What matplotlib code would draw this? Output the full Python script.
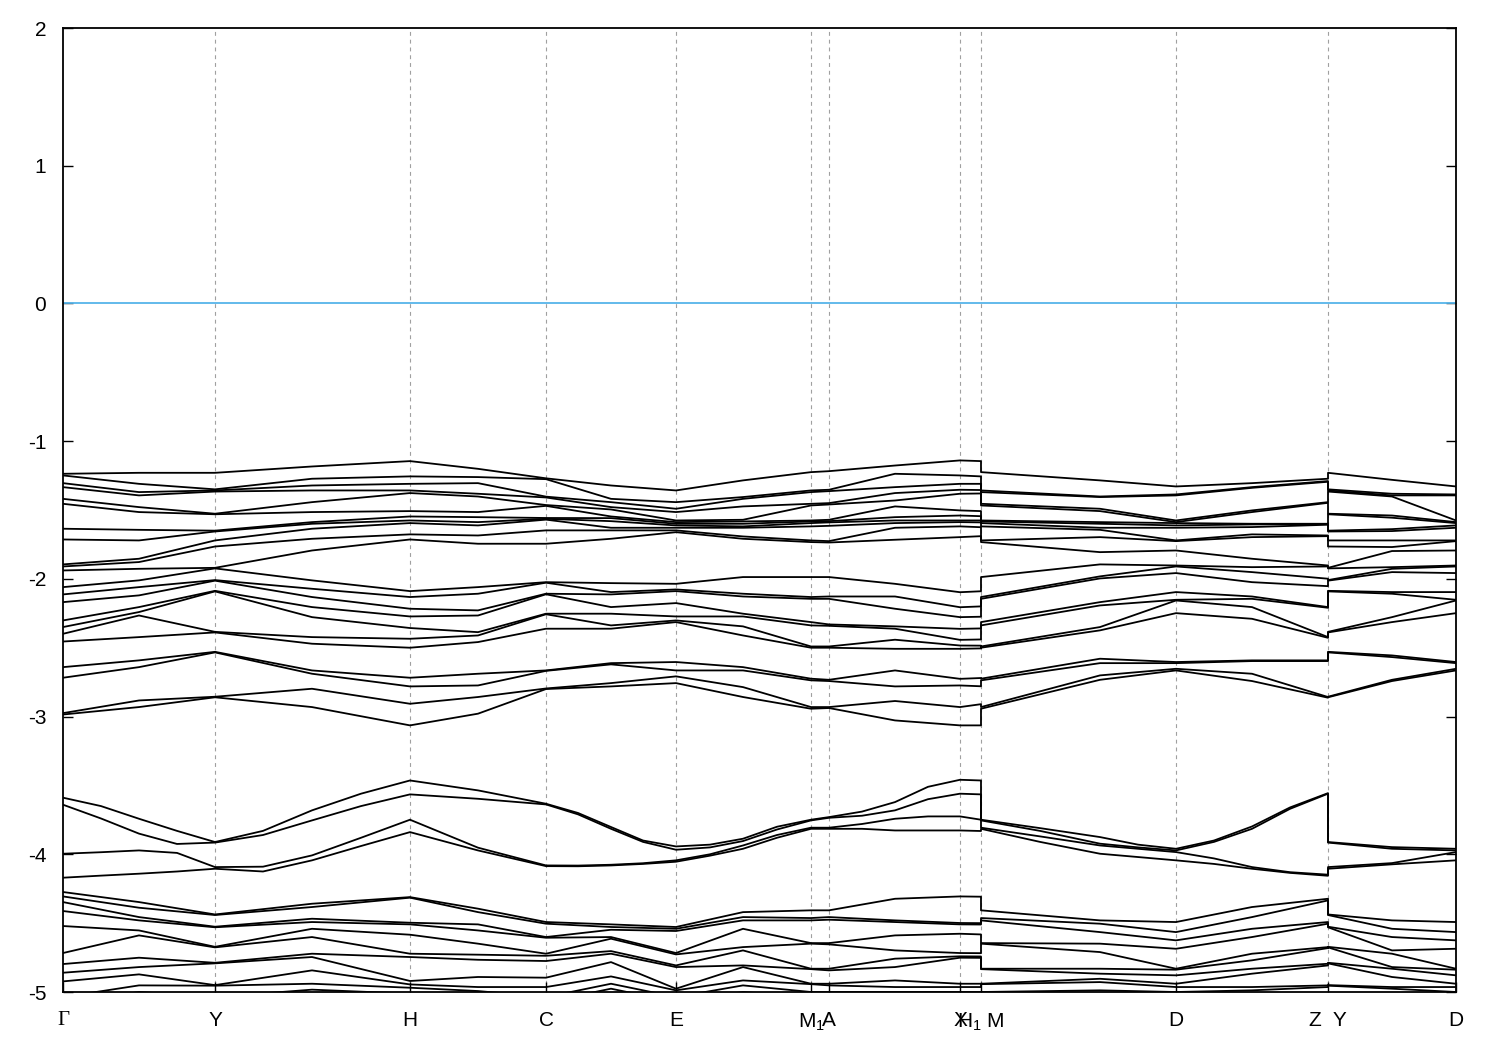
import numpy as np
import matplotlib
matplotlib.use("Agg")
import matplotlib.pyplot as plt

plt.rcParams['font.family'] = ['Liberation Sans', 'DejaVu Sans']
plt.rcParams['mathtext.fontset'] = 'custom'
plt.rcParams['mathtext.rm'] = 'Liberation Sans'
plt.rcParams['mathtext.it'] = 'Liberation Sans'
plt.rcParams['axes.unicode_minus'] = False

# high-symmetry points along the path
tick_pos = [0.00, 1.52, 3.47, 4.83, 6.13, 7.48, 7.66, 8.97, 9.18, 11.13, 12.65, 13.93]
tick_labels = ['Γ', 'Y', 'H', 'C', 'E', 'M$_1$', 'A', 'X', 'H$_1$ M', 'D', 'Z  Y', 'D']

# k positions of the sampled columns (Γ..H1 | M..Z | Y..D)
seg1_k = [0.00, 0.76, 1.52, 2.49, 3.47, 4.15, 4.83, 5.48, 6.13, 6.80, 7.48, 7.66, 8.32, 8.97, 9.18]
seg2_k = [9.18, 10.37, 11.13, 11.89, 12.65]
seg3_k = [12.65, 13.29, 13.93]

# upper manifold (22 bands), one row per column
seg1_upper = [
    [-1.237, -1.249, -1.305, -1.334, -1.419, -1.455, -1.636, -1.714, -1.895, -1.910, -1.939, -2.060, -2.113, -2.169, -2.302, -2.350, -2.399, -2.455, -2.641, -2.718, -2.975, -2.985],  # Γ
    [-1.230, -1.310, -1.370, -1.394, -1.479, -1.515, -1.644, -1.721, -1.854, -1.878, -1.927, -2.011, -2.060, -2.120, -2.205, -2.241, -2.266, -2.423, -2.592, -2.641, -2.883, -2.931],
    [-1.230, -1.350, -1.358, -1.366, -1.527, -1.531, -1.650, -1.656, -1.721, -1.765, -1.920, -1.924, -2.009, -2.013, -2.087, -2.091, -2.385, -2.389, -2.530, -2.534, -2.856, -2.860],  # Y
    [-1.184, -1.273, -1.322, -1.358, -1.443, -1.515, -1.588, -1.600, -1.636, -1.709, -1.794, -2.011, -2.072, -2.132, -2.205, -2.278, -2.423, -2.471, -2.665, -2.689, -2.798, -2.931],
    [-1.145, -1.256, -1.310, -1.358, -1.377, -1.508, -1.547, -1.576, -1.595, -1.677, -1.714, -2.089, -2.132, -2.217, -2.273, -2.357, -2.435, -2.500, -2.718, -2.781, -2.907, -3.064],  # H
    [-1.201, -1.261, -1.305, -1.382, -1.402, -1.515, -1.552, -1.588, -1.612, -1.685, -1.745, -2.060, -2.108, -2.229, -2.266, -2.387, -2.411, -2.459, -2.689, -2.774, -2.858, -2.979],
    [-1.270, -1.276, -1.403, -1.409, -1.464, -1.470, -1.558, -1.564, -1.570, -1.648, -1.745, -2.024, -2.028, -2.108, -2.112, -2.253, -2.257, -2.362, -2.665, -2.668, -2.796, -2.800],  # C
    [-1.322, -1.419, -1.443, -1.479, -1.496, -1.547, -1.559, -1.581, -1.629, -1.648, -1.709, -2.031, -2.096, -2.113, -2.205, -2.253, -2.338, -2.362, -2.612, -2.621, -2.757, -2.781],
    [-1.358, -1.443, -1.491, -1.515, -1.576, -1.588, -1.600, -1.612, -1.629, -1.648, -1.661, -2.036, -2.077, -2.089, -2.176, -2.273, -2.302, -2.314, -2.604, -2.665, -2.708, -2.757],  # E
    [-1.285, -1.406, -1.419, -1.474, -1.571, -1.583, -1.600, -1.619, -1.629, -1.692, -1.709, -1.987, -2.108, -2.128, -2.253, -2.273, -2.345, -2.411, -2.641, -2.665, -2.786, -2.858],
    [-1.225, -1.358, -1.370, -1.455, -1.467, -1.576, -1.583, -1.595, -1.619, -1.721, -1.733, -1.987, -2.132, -2.145, -2.314, -2.338, -2.491, -2.500, -2.725, -2.737, -2.931, -2.943],  # M1
    [-1.218, -1.353, -1.363, -1.450, -1.460, -1.571, -1.581, -1.590, -1.615, -1.726, -1.736, -1.987, -2.128, -2.145, -2.331, -2.341, -2.491, -2.500, -2.733, -2.742, -2.931, -2.938],  # A
    [-1.177, -1.237, -1.334, -1.377, -1.431, -1.474, -1.552, -1.576, -1.595, -1.629, -1.716, -2.036, -2.128, -2.217, -2.345, -2.362, -2.442, -2.508, -2.665, -2.781, -2.887, -3.028],
    [-1.140, -1.249, -1.310, -1.353, -1.382, -1.503, -1.540, -1.576, -1.588, -1.619, -1.697, -2.097, -2.206, -2.278, -2.363, -2.443, -2.484, -2.508, -2.726, -2.774, -2.931, -3.064],  # X
    [-1.145, -1.256, -1.310, -1.355, -1.380, -1.508, -1.545, -1.576, -1.590, -1.625, -1.690, -2.090, -2.200, -2.275, -2.360, -2.440, -2.485, -2.505, -2.720, -2.780, -2.910, -3.064],  # H1
]
seg2_upper = [
    [-1.225, -1.358, -1.370, -1.455, -1.467, -1.576, -1.583, -1.595, -1.619, -1.721, -1.733, -1.987, -2.132, -2.145, -2.314, -2.338, -2.491, -2.500, -2.725, -2.737, -2.931, -2.943],  # M
    [-1.285, -1.402, -1.406, -1.491, -1.508, -1.588, -1.600, -1.629, -1.644, -1.697, -1.806, -1.895, -1.982, -1.997, -2.169, -2.193, -2.350, -2.374, -2.580, -2.612, -2.701, -2.733],
    [-1.329, -1.387, -1.394, -1.576, -1.588, -1.595, -1.612, -1.629, -1.721, -1.726, -1.794, -1.903, -1.910, -1.958, -2.096, -2.152, -2.157, -2.249, -2.604, -2.612, -2.653, -2.665],  # D
    [-1.305, -1.334, -1.339, -1.503, -1.515, -1.600, -1.605, -1.624, -1.677, -1.697, -1.854, -1.915, -1.951, -2.024, -2.128, -2.145, -2.205, -2.290, -2.592, -2.597, -2.689, -2.742],
    [-1.273, -1.290, -1.295, -1.443, -1.448, -1.600, -1.602, -1.607, -1.685, -1.690, -1.903, -1.910, -1.999, -2.053, -2.205, -2.210, -2.423, -2.428, -2.592, -2.597, -2.858, -2.863],  # Z
]
seg3_upper = [
    [-1.230, -1.350, -1.358, -1.366, -1.527, -1.531, -1.650, -1.656, -1.721, -1.765, -1.920, -1.924, -2.009, -2.013, -2.087, -2.091, -2.385, -2.389, -2.530, -2.534, -2.856, -2.860],  # Y
    [-1.281, -1.382, -1.394, -1.402, -1.540, -1.556, -1.639, -1.653, -1.721, -1.769, -1.798, -1.915, -1.927, -1.951, -2.096, -2.108, -2.278, -2.314, -2.556, -2.568, -2.733, -2.742],
    [-1.329, -1.387, -1.394, -1.576, -1.588, -1.595, -1.612, -1.629, -1.721, -1.726, -1.794, -1.903, -1.910, -1.958, -2.096, -2.152, -2.157, -2.249, -2.604, -2.612, -2.653, -2.665],  # D
]

# lower manifold (11 bands, the last ones run below the window)
seg1_lower = [
    [-4.274, -4.306, -4.347, -4.412, -4.521, -4.717, -4.797, -4.860, -4.923, -5.037, -5.085],
    [-4.347, -4.388, -4.456, -4.480, -4.553, -4.589, -4.751, -4.819, -4.872, -4.952, -5.000],
    [-4.437, -4.441, -4.526, -4.530, -4.672, -4.676, -4.788, -4.792, -4.950, -4.954, -5.037],
    [-4.359, -4.383, -4.468, -4.492, -4.541, -4.601, -4.722, -4.746, -4.843, -4.940, -4.983],
    [-4.311, -4.315, -4.497, -4.509, -4.584, -4.722, -4.746, -4.920, -4.945, -4.969, -5.012],
    [-4.395, -4.420, -4.509, -4.553, -4.649, -4.729, -4.766, -4.891, -4.964, -4.993, -5.037],
    [-4.492, -4.504, -4.601, -4.606, -4.722, -4.737, -4.775, -4.896, -4.964, -5.037, -5.073],
    [-4.509, -4.528, -4.548, -4.601, -4.613, -4.703, -4.722, -4.783, -4.887, -4.940, -4.976],
    [-4.528, -4.541, -4.557, -4.717, -4.727, -4.807, -4.819, -4.976, -4.988, -5.037, -5.073],
    [-4.420, -4.456, -4.480, -4.541, -4.674, -4.698, -4.807, -4.819, -4.916, -4.952, -5.000],
    [-4.407, -4.463, -4.480, -4.645, -4.649, -4.831, -4.834, -4.940, -4.943, -5.000, -5.037],
    [-4.407, -4.456, -4.475, -4.645, -4.654, -4.831, -4.843, -4.940, -4.952, -5.000, -5.037],
    [-4.323, -4.480, -4.492, -4.589, -4.698, -4.758, -4.819, -4.916, -4.964, -5.000, -5.037],
    [-4.306, -4.499, -4.509, -4.577, -4.717, -4.741, -4.751, -4.940, -4.964, -5.000, -5.037],
    [-4.308, -4.500, -4.510, -4.582, -4.718, -4.742, -4.752, -4.940, -4.964, -5.000, -5.037],
]
seg2_lower = [
    [-4.407, -4.463, -4.480, -4.645, -4.649, -4.831, -4.834, -4.940, -4.943, -5.000, -5.037],
    [-4.480, -4.504, -4.565, -4.649, -4.710, -4.831, -4.867, -4.904, -4.928, -4.988, -5.037],
    [-4.492, -4.565, -4.625, -4.686, -4.831, -4.838, -4.879, -4.940, -4.964, -5.000, -5.037],
    [-4.383, -4.456, -4.541, -4.601, -4.722, -4.770, -4.831, -4.867, -4.964, -4.988, -5.037],
    [-4.323, -4.335, -4.492, -4.504, -4.674, -4.681, -4.795, -4.807, -4.952, -4.964, -5.037],
]
seg3_lower = [
    [-4.437, -4.441, -4.526, -4.530, -4.672, -4.676, -4.788, -4.792, -4.950, -4.954, -5.037],
    [-4.480, -4.541, -4.601, -4.698, -4.722, -4.819, -4.831, -4.891, -4.964, -4.976, -5.037],
    [-4.492, -4.565, -4.625, -4.686, -4.831, -4.838, -4.879, -4.940, -4.964, -5.000, -5.037],
]

# middle manifold (4 bands) on its own, finer set of columns
mid_k = [0.00, 0.38, 0.76, 1.14, 1.52, 2.00, 2.49, 2.98, 3.47, 4.15, 4.83, 5.15, 5.48, 5.80, 6.13,
         6.47, 6.80, 7.14, 7.48, 7.66, 7.99, 8.32, 8.65, 8.97, 9.18,
         9.18, 9.77, 10.37, 10.75, 11.13, 11.51, 11.89, 12.27, 12.65,
         12.65, 13.29, 13.93]
mid_bands = [
    [-3.589, -3.640, -3.996, -4.170],  # Γ
    [-3.650, -3.740, -3.985, -4.155],
    [-3.742, -3.850, -3.972, -4.141],
    [-3.830, -3.925, -3.990, -4.125],
    [-3.911, -3.915, -4.093, -4.105],  # Y
    [-3.830, -3.860, -4.090, -4.125],
    [-3.681, -3.754, -4.008, -4.044],
    [-3.560, -3.650, -3.880, -3.940],
    [-3.464, -3.565, -3.749, -3.839],  # H
    [-3.536, -3.597, -3.952, -3.972],
    [-3.633, -3.638, -4.081, -4.086],  # C
    [-3.700, -3.710, -4.082, -4.087],
    [-3.802, -3.815, -4.076, -4.081],
    [-3.900, -3.910, -4.065, -4.070],
    [-3.943, -3.967, -4.044, -4.054],  # E
    [-3.930, -3.950, -4.000, -4.010],
    [-3.887, -3.904, -3.936, -3.960],
    [-3.800, -3.820, -3.860, -3.880],
    [-3.749, -3.754, -3.807, -3.815],  # M1
    [-3.730, -3.735, -3.807, -3.815],  # A
    [-3.690, -3.720, -3.780, -3.815],
    [-3.621, -3.681, -3.742, -3.827],
    [-3.510, -3.600, -3.725, -3.827],
    [-3.459, -3.560, -3.725, -3.827],  # X
    [-3.464, -3.565, -3.749, -3.831],  # H1
    [-3.749, -3.754, -3.807, -3.815],  # M
    [-3.810, -3.830, -3.870, -3.910],
    [-3.875, -3.923, -3.936, -3.996],
    [-3.930, -3.950, -3.960, -4.020],
    [-3.960, -3.972, -3.984, -4.044],  # D
    [-3.900, -3.910, -4.030, -4.070],
    [-3.798, -3.815, -4.093, -4.105],
    [-3.660, -3.670, -4.130, -4.135],
    [-3.556, -3.560, -4.148, -4.156],  # Z
    [-3.911, -3.915, -4.093, -4.105],  # Y
    [-3.948, -3.960, -4.064, -4.073],
    [-3.960, -3.972, -3.984, -4.044],  # D
]

# join the three pieces of the path (gnuplot draws the jumps as vertical strokes)
k_all = np.array(seg1_k + seg2_k + seg3_k)
bands = np.vstack([
    np.hstack([seg1_upper, seg1_lower]),
    np.hstack([seg2_upper, seg2_lower]),
    np.hstack([seg3_upper, seg3_lower]),
])
mid_arr = np.array(mid_bands)

fig = plt.figure(figsize=(15, 10.5), dpi=100)
ax = fig.add_axes([63 / 1500, 58 / 1050, 1393 / 1500, 964 / 1050])

for xv in tick_pos[1:-1]:
    ax.axvline(xv, color='#a0a0a0', lw=0.8, ls=(0, (3.5, 3.5)), zorder=1)

ax.axhline(0, color='#56b4e9', lw=1.3, zorder=2)

for j in range(bands.shape[1]):
    ax.plot(k_all, bands[:, j], color='black', lw=1.3, zorder=3)
for j in range(mid_arr.shape[1]):
    ax.plot(mid_k, mid_arr[:, j], color='black', lw=1.3, zorder=3)

ax.set_xlim(tick_pos[0], tick_pos[-1])
ax.set_ylim(-5, 2)
ax.set_yticks(range(-5, 3))
ax.set_yticklabels([str(v) for v in range(-5, 3)])
ax.set_xticks(tick_pos)
ax.set_xticklabels(tick_labels)
ax.get_xticklabels()[0].set_fontfamily('Liberation Serif')

ax.tick_params(axis='both', direction='in', labelsize=15, width=1, colors='black')
ax.tick_params(axis='y', length=7, pad=12, right=True)
ax.tick_params(axis='x', length=7, pad=14)
for s in ax.spines.values():
    s.set_linewidth(1.3)

plt.savefig('out.png', dpi=100)
